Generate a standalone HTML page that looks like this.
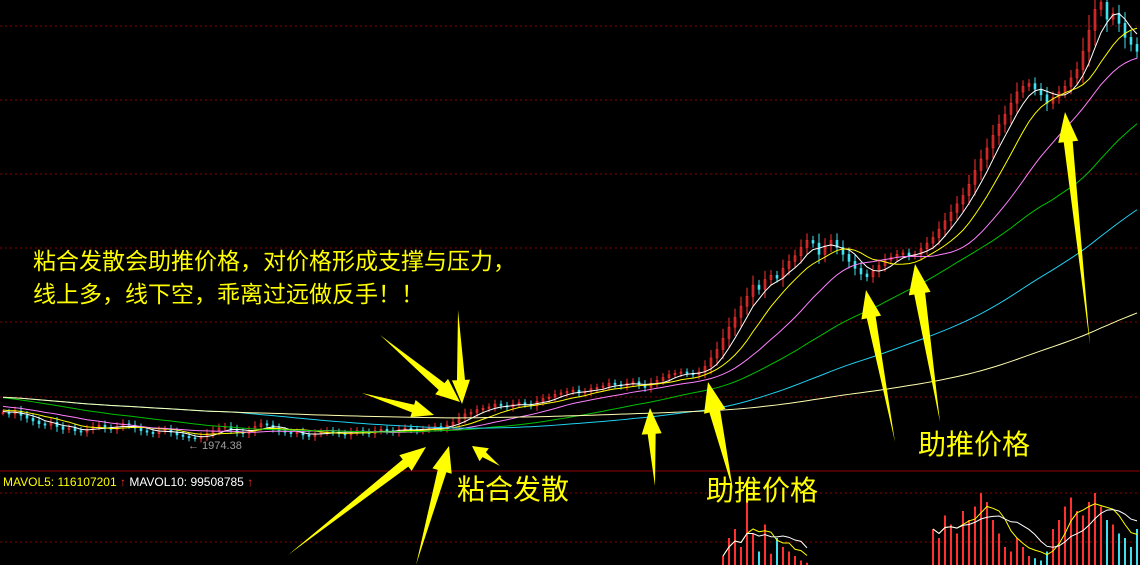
<!DOCTYPE html>
<html><head><meta charset="utf-8"><style>
html,body{margin:0;padding:0;background:#000;}
svg{display:block}
text{font-family:"Liberation Sans","Noto Sans CJK SC",sans-serif}
</style></head><body>
<svg id="c" width="1140" height="565" viewBox="0 0 1140 565"></svg>
<script>
const priorCloses=[2400,2390,2380,2400,2390,2370,2360,2350,2370,2360,2340,2330,2320,2340,2330,2310,2300,2290,2300,2280,
2270,2280,2260,2250,2260,2240,2230,2240,2220,2210,2220,2200,2190,2200,2210,2190,2180,2190,2180,2170];
const closes=[2170,2160,2180,2150,2130,2110,2090,2080,2100,2070,2050,2060,2040,2030,2050,2070,2080,2060,2050,2070,
2090,2080,2060,2040,2030,2020,2040,2050,2030,2010,2000,1990,1985,2000,2020,2040,2060,2070,2050,2030,
2020,2040,2070,2090,2080,2060,2040,2030,2020,2030,2010,2000,2020,2030,2040,2030,2020,2010,2030,2040,
2030,2020,2040,2050,2040,2030,2050,2060,2050,2040,2050,2060,2070,2060,2080,2100,2130,2160,2170,2190,
2200,2210,2230,2220,2210,2230,2240,2230,2220,2250,2270,2280,2300,2310,2320,2330,2310,2320,2340,2350,
2360,2380,2370,2360,2380,2390,2370,2350,2380,2400,2420,2440,2450,2460,2450,2440,2460,2500,2560,2620,
2700,2780,2850,2930,3000,3080,3050,3120,3150,3130,3200,3250,3290,3350,3400,3380,3300,3360,3400,3350,
3300,3250,3200,3160,3140,3180,3220,3260,3280,3300,3310,3290,3300,3340,3380,3420,3480,3540,3600,3660,
3720,3800,3900,3980,4060,4150,4230,4300,4380,4460,4500,4520,4480,4440,4380,4420,4460,4500,4560,4620,
4750,4900,5050,5100,4980,5020,4950,4850,4800,4750];
const volStart=120;
const volumes=[20,60,80,40,150,70,30,90,25,60,40,30,20,10,5,
0,0,0,0,0,0,0,0,0,0,0,0,0,0,0,0,0,0,0,0,
80,60,110,90,70,120,100,130,160,140,100,70,40,30,60,40,20,15,10,30,80,100,130,150,120,110,140,160,130,100,90,70,60,40,80];
const maPeriods=[5,10,20,40,80,160];
const maColors=["#ffffff","#ffff00","#ff80ff","#00c000","#20d0f0","#ffffb0"];
const lowLabel="1974.38";

const svg=document.getElementById('c');
const NS="http://www.w3.org/2000/svg";
function mk(tag,attrs,parent){const e=document.createElementNS(NS,tag);for(const k in attrs)e.setAttribute(k,attrs[k]);(parent||svg).appendChild(e);return e;}
const xS=i=>3+i*6;
const yS=p=>440-(p-1974)*0.14;
const vY=v=>565-v*0.45;

[26,100,174,248,322,397,493,542].forEach(y=>{const l=mk('line',{x1:0,x2:1140,y1:y,y2:y,stroke:'#8a0000','stroke-dasharray':'2,3','stroke-width':1});

});
const sep=mk('line',{x1:0,x2:1140,y1:471,y2:471,stroke:'#900000','stroke-width':1});



const cg=mk('g',{});


closes.forEach((c,i)=>{
  const o=i?closes[i-1]:c;const up=c>=o;const col=up?'#ff3030':'#40e0f0';
  const span=Math.abs(c-o);
  const hi=Math.max(o,c)+20+span*0.6, lo=Math.min(o,c)-20-span*0.6;
  const w=mk('line',{x1:xS(i),x2:xS(i),y1:yS(hi),y2:yS(lo),stroke:col,'stroke-width':1},cg);
  
  
  const r=mk('rect',{x:xS(i)-1,y:yS(Math.max(o,c)),width:2,height:Math.max(1,Math.abs(yS(o)-yS(c))),fill:up?'none':col,stroke:col,'stroke-width':0.6},cg);
  
  
});
const all=priorCloses.concat(closes);const off=priorCloses.length;
function ma(arr,n){return arr.map((_,i)=>{const s=Math.max(0,i-n+1);let t=0;for(let j=s;j<=i;j++)t+=arr[j];return t/(i-s+1);});}
maPeriods.forEach((n,k)=>{const m=ma(all,n).slice(off);
  const p=mk('polyline',{points:m.map((v,i)=>xS(i)+','+yS(v)).join(' '),fill:'none',stroke:maColors[k],'stroke-width':1});
  
  });
const lt=mk('text',{x:188,y:449,fill:'#a0a0a0','font-size':11});lt.textContent='← '+lowLabel;



volumes.forEach((v,j)=>{if(!v)return;const i=volStart+j;const up=closes[i]>=closes[i-1];
  const b=mk('line',{x1:xS(i),x2:xS(i),y1:vY(v),y2:565,stroke:up?'#ff3030':'#40e0f0','stroke-width':2});
  
  });
[[5,'#ffff00'],[10,'#ffffff']].forEach(([n,col])=>{
  [[0,15],[35,70]].forEach(([a,b])=>{const seg=volumes.slice(a,b);const m=ma(seg,n);
   const p=mk('polyline',{points:m.map((v,j)=>xS(volStart+a+j)+','+vY(v)).join(' '),fill:'none',stroke:col,'stroke-width':1});
   
   });
});

function arrow(tx,ty,bx,by,hw,hl,sw,name){
  const dx=tx-bx,dy=ty-by,L=Math.hypot(dx,dy),ux=dx/L,uy=dy/L,px=-uy,py=ux;
  const hx=tx-ux*hl,hy=ty-uy*hl;
  const pts=[[tx,ty],[hx+px*hw,hy+py*hw],[hx+px*sw,hy+py*sw],[bx,by],[hx-px*sw,hy-py*sw],[hx-px*hw,hy-py*hw]];
  const a=mk('polygon',{points:pts.map(p=>p.join(',')).join(' '),fill:'#ffff00'});
  
  
}
arrow(460,402,380,335,10,24,4.5,'converge-arrow-1');
arrow(434,415,362,393,9,22,4,'converge-arrow-2');
arrow(462,404,458,310,9,24,4,'converge-arrow-3');
arrow(426,447,288,555,10,26,4.5,'diverge-arrow-1');
arrow(449,446,416,565,10,26,4.5,'diverge-arrow-2');
arrow(472,446,500,466,8,15,3,'diverge-arrow-3');
arrow(650,408,655,486,10,26,4,'push-arrow-1');
arrow(708,382,733,490,11,30,5.5,'push-arrow-2');
arrow(866,290,895,442,10,28,4.5,'push-arrow-3');
arrow(915,264,940,422,11,30,5.5,'push-arrow-4');
arrow(1065,112,1090,345,10,30,4.5,'push-arrow-5');

function txt(x,y,s,size,name){const t=mk('text',{x:x,y:y,fill:'#ffff00','font-size':size});t.textContent=s;
  
  return t;}
txt(33,269,'粘合发散会助推价格，对价格形成支撑与压力，',23,'note-line-1');
txt(33,302,'线上多，线下空，乖离过远做反手！！',23,'note-line-2');
txt(457,499,'粘合发散',28,'label-converge');
txt(706,500,'助推价格',28,'label-push-1');
txt(918,454,'助推价格',28,'label-push-2');

const mv=mk('text',{x:3,y:486,'font-size':12});


mv.innerHTML='<tspan fill="#ffff00">MAVOL5: 116107201 </tspan><tspan fill="#ff3030">↑</tspan><tspan fill="#ffffff">  MAVOL10: 99508785 </tspan><tspan fill="#ff3030">↑</tspan>';
</script>
</body></html>
